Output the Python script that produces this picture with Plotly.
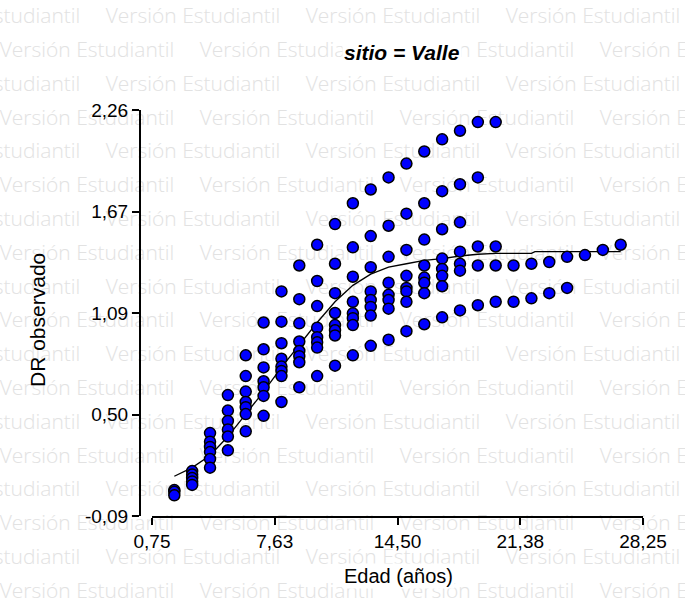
import plotly.graph_objects as go

W, H = 685, 610

# ---------------- data ----------------
edades = [2, 3, 4, 5, 6, 7, 8, 9, 10, 11, 12, 13, 14, 15, 16, 17, 18, 19, 20,
          21, 22, 23, 24, 25, 26, 27]
dr_obs = [
    [0.06, 0.05, 0.03],
    [0.17, 0.15, 0.13, 0.11, 0.09],
    [0.39, 0.34, 0.31, 0.28, 0.24, 0.19],
    [0.61, 0.52, 0.46, 0.41, 0.37, 0.29],
    [0.84, 0.72, 0.63, 0.57, 0.54, 0.50, 0.40],
    [1.03, 0.875, 0.77, 0.69, 0.655, 0.605, 0.49],
    [1.21, 1.035, 0.91, 0.82, 0.775, 0.75, 0.72, 0.57],
    [1.36, 1.165, 1.025, 0.92, 0.865, 0.835, 0.80, 0.655],
    [1.48, 1.27, 1.125, 1.00, 0.945, 0.915, 0.885, 0.72],
    [1.60, 1.37, 1.20, 1.085, 1.015, 0.985, 0.955, 0.78],
    [1.72, 1.465, 1.295, 1.15, 1.083, 1.055, 1.015, 0.84],
    [1.80, 1.53, 1.35, 1.21, 1.16, 1.12, 1.07, 0.895],
    [1.87, 1.59, 1.41, 1.26, 1.19, 1.16, 1.11, 0.93],
    [1.95, 1.66, 1.45, 1.30, 1.23, 1.21, 1.15, 0.98],
    [2.02, 1.72, 1.51, 1.36, 1.29, 1.26, 1.20, 1.02],
    [2.09, 1.79, 1.57, 1.40, 1.34, 1.30, 1.24, 1.06],
    [2.14, 1.83, 1.61, 1.44, 1.37, 1.33, 1.10],
    [2.19, 1.87, 1.47, 1.36, 1.13],
    [2.19, 1.47, 1.36, 1.15],
    [1.36, 1.15],
    [1.37, 1.17],
    [1.38, 1.20],
    [1.41, 1.23],
    [1.42],
    [1.45],
    [1.48],
]

edad_ajuste = [2, 3, 4, 5, 6, 7, 8, 9, 10, 11, 12, 13, 14, 15, 16, 17, 18,
               19, 20, 21, 22, 22.2, 27]
dr_ajuste = [0.14, 0.19, 0.26, 0.37, 0.50, 0.63, 0.77, 0.90, 1.03, 1.15, 1.245,
             1.31, 1.35, 1.37, 1.39, 1.40, 1.415, 1.425, 1.43, 1.43, 1.43,
             1.44, 1.44]

x_tickvals = [0.75, 7.625, 14.5, 21.375, 28.25]
x_ticktext = ["0,75", "7,63", "14,50", "21,38", "28,25"]
y_tickvals = [-0.09, 0.4975, 1.085, 1.6725, 2.26]
y_ticktext = ["-0,09", "0,50", "1,09", "1,67", "2,26"]

x_obs = [a for a, vals in zip(edades, dr_obs) for _ in vals]
y_obs = [v for vals in dr_obs for v in vals]

# ---------------- watermark (decoration) ----------------
WM_TEXT = "Versión Estudiantil"
wm_period = 200
wm_half = 83
wm_x, wm_y = [], []
for k in range(18):
    yc = 18 + k * 33.8
    start = 4 if k % 2 else 110
    x = start - 2 * wm_period
    while x < W:
        c = x + wm_half
        if -wm_half <= c <= W + wm_half:
            wm_x.append(c)
            wm_y.append(yc)
        x += wm_period

fig = go.Figure()

fig.add_trace(go.Scatter(
    x=wm_x, y=wm_y, text=[WM_TEXT] * len(wm_x), mode="text",
    textposition="middle center",
    textfont=dict(family="Open Sans", size=21, weight=300, color="rgb(226,226,226)"),
    xaxis="x", yaxis="y", hoverinfo="skip", showlegend=False,
))

fig.add_trace(go.Scatter(
    x=edad_ajuste, y=dr_ajuste, mode="lines",
    line=dict(color="black", width=1.3),
    xaxis="x2", yaxis="y2", hoverinfo="skip", showlegend=False,
))

fig.add_trace(go.Scatter(
    x=x_obs, y=y_obs, mode="markers",
    marker=dict(size=11, color="#0000FF", line=dict(color="black", width=1.5)),
    xaxis="x2", yaxis="y2", showlegend=False,
))

tickfont = dict(family="Liberation Sans", size=19, color="black")

fig.update_layout(
    width=W, height=H,
    margin=dict(l=0, r=0, t=0, b=0, pad=0, autoexpand=False),
    paper_bgcolor="white", plot_bgcolor="rgba(0,0,0,0)",
    showlegend=False,
    xaxis=dict(domain=[0, 1], range=[0, W], visible=False, fixedrange=True,
               automargin=False),
    yaxis=dict(domain=[0, 1], range=[H, 0], visible=False, fixedrange=True,
               automargin=False),
    xaxis2=dict(
        domain=[152 / W, 643 / W], range=[0.75, 28.25], anchor="y2",
        tickmode="array", tickvals=x_tickvals, ticktext=x_ticktext,
        ticks="outside", ticklen=7, tickwidth=2, tickcolor="black",
        showline=True, linewidth=2, linecolor="black", automargin=False,
        showgrid=False, zeroline=False, tickfont=tickfont,
    ),
    yaxis2=dict(
        domain=[(H - 516) / H, (H - 110) / H], range=[-0.09, 2.26],
        anchor="free", position=140 / W,
        tickmode="array", tickvals=y_tickvals, ticktext=y_ticktext,
        ticks="outside", ticklen=7, tickwidth=2, tickcolor="black",
        showline=True, linewidth=2, linecolor="black", automargin=False,
        showgrid=False, zeroline=False, tickfont=tickfont,
    ),
    annotations=[
        dict(text="<b><i>sitio = Valle</i></b>", x=402 / W, y=1 - 52 / H,
             xref="paper", yref="paper", showarrow=False,
             xanchor="center", yanchor="middle", bgcolor="white",
             font=dict(family="Liberation Sans", size=21, color="black")),
        dict(text="Edad (años)", x=398 / W, y=1 - 576 / H,
             xref="paper", yref="paper", showarrow=False,
             xanchor="center", yanchor="middle", bgcolor="white",
             font=dict(family="Liberation Sans", size=20, color="black")),
        dict(text="DR observado", x=37 / W, y=1 - 320 / H, textangle=-90,
             xref="paper", yref="paper", showarrow=False,
             xanchor="center", yanchor="middle",
             font=dict(family="Liberation Sans", size=21, color="black")),
    ],
)

fig.write_html("out.html")
